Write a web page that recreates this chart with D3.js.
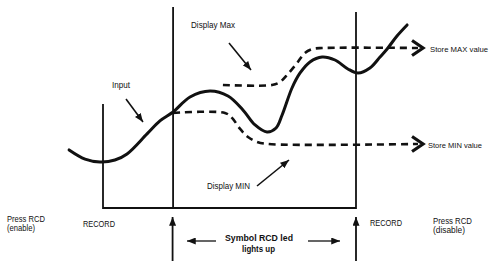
<!DOCTYPE html>
<html>
<head>
<meta charset="utf-8">
<script src="https://cdn.jsdelivr.net/npm/d3@7"></script>
<style>
  html, body { margin: 0; padding: 0; background: #fff; }
  svg { display: block; }
  text { font-family: "Liberation Sans Narrow", "Arial Narrow", "Liberation Sans", Arial, sans-serif; fill: #111; }
</style>
</head>
<body>
<svg id="chart" width="491" height="261"></svg>
<script>
// ---- data (time units: 0 = record start, 100 = record end; level units: 0 = baseline, 100 = max hold) ----
const inputT = [-13.4, -7.1, -1.2, 4.7, 9.5, 17.4, 22.5, 27.7, 34.4, 42.3, 49.4, 55.3, 60.1, 64.8, 68.4, 70.8, 74.7, 77.9, 81.8, 86.6, 91.7, 96.8, 100.8, 105.5, 109.5, 112.3, 116.2, 120.2];
const inputV = [36.3, 30.6, 28.8, 30, 33.8, 46.3, 54.4, 60, 69.4, 73.1, 70, 61.3, 51.9, 47.5, 50, 58.1, 75, 84.4, 91.3, 94.4, 92.5, 86.9, 84.4, 87.5, 94.4, 99.4, 107.5, 114.4];

const maxT = [47.4, 66.8, 70, 73.1, 76.7, 79.8, 82.9, 86.6, 124.5];
const maxV = [76.9, 76.9, 78.8, 83.8, 90.6, 96.9, 99.4, 100, 100];

const minT = [27.7, 48.2, 51, 54.2, 57.3, 60.9, 65.2, 124.5];
const minV = [59.4, 59.4, 56.3, 49.4, 44.4, 41.3, 40, 40];

const recordStartT = 0, rcdOnT = 27.7, recordEndT = 100;
const recordStartTopV = 65, rcdOnTopV = 125.6, recordEndTopV = 122.5;

const labels = {
  displayMax: "Display Max",
  input: "Input",
  displayMin: "Display MIN",
  storeMax: "Store MAX value",
  storeMin: "Store MIN value",
  pressOn: ["Press RCD", "(enable)"],
  pressOff: ["Press RCD", "(disable)"],
  record: "RECORD",
  symbol: ["Symbol RCD led", "lights up"]
};

// ---- scales ----
const x = d3.scaleLinear().domain([0, 100]).range([103, 356]);
const y = d3.scaleLinear().domain([0, 100]).range([208, 48]);

const svg = d3.select("#chart");
const defs = svg.append("defs");
defs.append("marker")
  .attr("id", "tri")
  .attr("viewBox", "0 0 10 8")
  .attr("refX", 10).attr("refY", 4)
  .attr("markerUnits", "userSpaceOnUse")
  .attr("markerWidth", 9).attr("markerHeight", 7)
  .attr("orient", "auto")
  .append("path").attr("d", "M0,0 L10,4 L0,8 Z").attr("fill", "#111");

const line = d3.line().x(d => x(d[0])).y(d => y(d[1])).curve(d3.curveCatmullRom.alpha(0.5));
const zip = (a, b) => a.map((v, i) => [v, b[i]]);

// ---- frame lines ----
svg.append("line")
  .attr("x1", x(recordStartT)).attr("x2", x(recordEndT))
  .attr("y1", y(0)).attr("y2", y(0))
  .attr("stroke", "#111").attr("stroke-width", 2);
[[recordStartT, recordStartTopV], [rcdOnT, rcdOnTopV], [recordEndT, recordEndTopV]].forEach(([t, v]) => {
  svg.append("line")
    .attr("x1", x(t)).attr("x2", x(t))
    .attr("y1", y(v)).attr("y2", y(0) + 1)
    .attr("stroke", "#111").attr("stroke-width", 1.8);
});

// ---- hold lines (dashed) ----
svg.append("path").datum(zip(maxT, maxV)).attr("d", line)
  .attr("fill", "none").attr("stroke", "#111").attr("stroke-width", 2.6).attr("stroke-dasharray", "7,5");
svg.append("path").datum(zip(minT, minV)).attr("d", line)
  .attr("fill", "none").attr("stroke", "#111").attr("stroke-width", 2.6).attr("stroke-dasharray", "7,5");

// open chevron arrowheads
function chevron(t, v) {
  const tx = x(t), ty = y(v);
  svg.append("path")
    .attr("d", `M${tx - 11},${ty - 7.5} L${tx},${ty} L${tx - 11},${ty + 7.5}`)
    .attr("fill", "none").attr("stroke", "#111").attr("stroke-width", 3.2).attr("stroke-linejoin", "miter");
}
chevron(maxT[maxT.length - 1] + 2, maxV[maxV.length - 1]);
chevron(minT[minT.length - 1] + 2, minV[minV.length - 1]);

// ---- input signal ----
svg.append("path").datum(zip(inputT, inputV)).attr("d", line)
  .attr("fill", "none").attr("stroke", "#111").attr("stroke-width", 3).attr("stroke-linecap", "round");

// ---- pointer arrows ----
function arrow(x1, y1, x2, y2, w) {
  svg.append("line").attr("x1", x1).attr("y1", y1).attr("x2", x2).attr("y2", y2)
    .attr("stroke", "#111").attr("stroke-width", w || 1.6).attr("marker-end", "url(#tri)");
}
arrow(229, 43, 251, 70);           // Display Max
arrow(126, 99, 143, 122);          // Input
arrow(257, 186, 289, 160);         // Display MIN
arrow(x(rcdOnT) - 0.5, 261, x(rcdOnT) - 0.5, 217, 1.8);
arrow(x(recordEndT), 261, x(recordEndT), 217, 1.8);
arrow(216, 241, 187, 241, 1.3);
arrow(308, 241, 340, 241, 1.3);

// ---- text ----
function label(str, x0, yc, w, opts) {
  opts = opts || {};
  const t = svg.append("text")
    .attr("x", x0).attr("y", yc + 3.2)
    .attr("font-size", opts.size || 9)
    .attr("font-weight", opts.bold ? "bold" : "normal")
    .attr("text-anchor", opts.anchor || "start")
    .text(str);
  if (w) t.attr("textLength", w).attr("lengthAdjust", "spacingAndGlyphs");
  return t;
}
label(labels.displayMax, 191, 25, 44, {size: 9.5});
label(labels.input, 112, 85, 18, {size: 9.5});
label(labels.displayMin, 207, 186, 43, {size: 9.5});
label(labels.storeMax, 430, 49, 58, {size: 7.8});
label(labels.storeMin, 428, 145, 54, {size: 7.8});
label(labels.pressOn[0], 7, 218.5, 38, {size: 8.2});
label(labels.pressOn[1], 7, 228, 28, {size: 8.2});
label(labels.record, 83, 224, 32, {size: 9});
label(labels.record, 370, 223, 32, {size: 9});
label(labels.pressOff[0], 433, 220.5, 39, {size: 8.2});
label(labels.pressOff[1], 433, 230, 32, {size: 8.2});
label(labels.symbol[0], 225, 238, 68, {size: 9.5, bold: true});
label(labels.symbol[1], 242, 249, 33, {size: 9.5, bold: true});
</script>
</body>
</html>
